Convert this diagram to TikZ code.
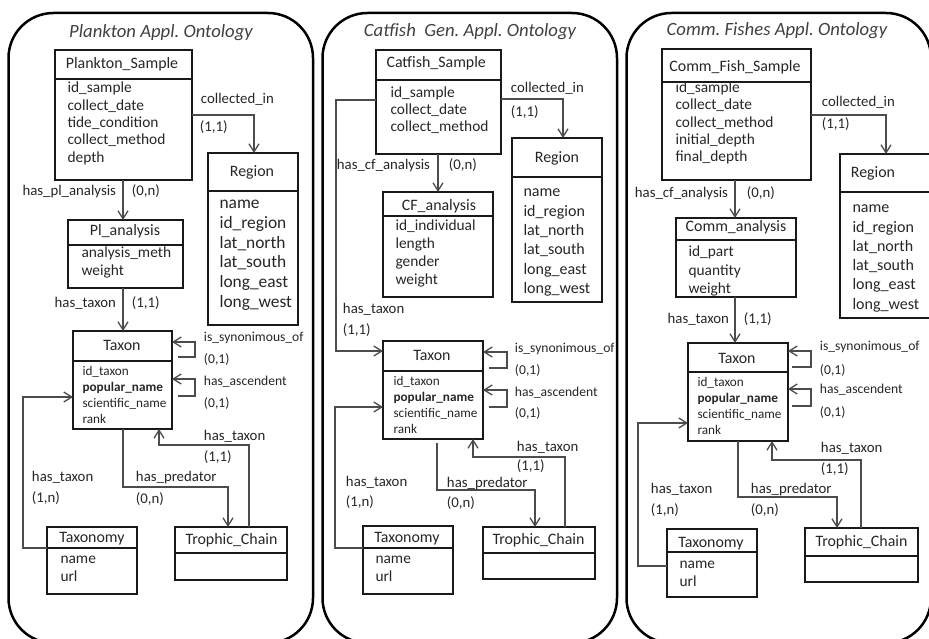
\documentclass[tikz,border=0pt]{standalone}
\usepackage{fontspec}
\setmainfont{Carlito}
\usetikzlibrary{arrows.meta,fit}
\frenchspacing
\newcommand{\fsz}[1]{\fontsize{#1}{#1}\selectfont}
% box with a header line: name, corners, y of the header line
\newcommand{\entity}[6]{%
  \node[entity, fit={(#2,#3) (#4,#5)}] (#1) {};
  \draw[sepline] (#1.west |- 0,#6) -- (#1.east |- 0,#6);}
% attribute lines: style, name prefix, x, first baseline, line step, list
\newcommand{\attrs}[6]{%
  \foreach \a [count=\i from 0] in {#6}
    \node[#1] (#2\i) at (#3,{#4+#5*\i}) {\a};}

\begin{document}
\begin{tikzpicture}[x=1pt, y=-1pt, >={Straight Barb[length=8pt,width=10pt]},
    panel/.style={draw, line width=2.5pt, rounded corners=45pt},
    ptitle/.style={anchor=base, text=black!75, font=\fsz{18.7}\itshape},
    entity/.style={draw=black!90, line width=1.1pt, inner sep=0pt, outer sep=0pt},
    sepline/.style={draw=black!90, line width=1.1pt},
    boxhead/.style={anchor=base, text=black!85, font=\fsz{15.9}},
    attr/.style={anchor=base west, text=black!85, font=\fsz{15.4}},
    rattr/.style={attr, font=\fsz{16}},
    tattr/.style={attr, font=\fsz{13.2}},
    rel/.style={->, draw=black!70, line width=1.3pt},
    lbl/.style={anchor=base west, text=black!85, font=\fsz{14.8}},
    lblsmall/.style={lbl, font=\fsz{13.6}}]
  \useasboundingbox (0,0) rectangle (929,639);

  % ---------- Plankton ----------
  \draw[panel] (8.5,13) rectangle (313,643);
  \node[ptitle] (plTitle) at (161,38) {Plankton Appl. Ontology};

  \entity{plSample}{55}{50}{192}{180}{79}
  \node[boxhead] (plSampleH) at (122,69) {Plankton\_Sample};
  \attrs{attr}{plSampleA}{64}{93}{17.3}{id\_sample, collect\_date, tide\_condition, collect\_method, depth}

  \entity{plRegion}{208}{153}{298}{325}{191}
  \node[boxhead] (plRegionH) at (252,177) {Region};
  \attrs{rattr, font=\fsz{17.4}}{plRegionA}{216}{209}{19.6}{name, id\_region, lat\_north, lat\_south, long\_east, long\_west}

  \entity{plAnalysis}{68}{220}{183}{288}{245}
  \node[boxhead] (plAnalysisH) at (125,236) {Pl\_analysis};
  \attrs{attr}{plAnalysisA}{78}{258}{18}{analysis\_meth, weight}

  \entity{plTaxon}{73}{331}{172}{429}{361}
  \node[boxhead] (plTaxonH) at (122,350) {Taxon};
  \attrs{tattr}{plTaxonA}{79}{375}{16}{id\_taxon, \textbf{popular\_name}, scientific\_name, rank}

  \entity{plTaxonomy}{47}{527}{137}{594}{548}
  \node[boxhead] (plTaxonomyH) at (92,542) {Taxonomy};
  \attrs{attr}{plTaxonomyA}{57}{563}{18}{name, url}

  \entity{plTrophic}{175}{527}{287}{580}{553}
  \node[boxhead, anchor=base west] (plTrophicH) at (182,544) {Trophic\_Chain};

  \draw[rel] (plSample.east |- 0,115) -| (plRegion.north -| 254,0)
    node[lbl] at (197,104) {collected\_in}
    node[lbl] at (196,132) {(1,1)};
  \draw[rel] (plSample.south -| 123,0) -- (plAnalysis.north -| 123,0)
    node[lbl, anchor=base east] at (120,196) {has\_pl\_analysis}
    node[lbl] at (128,196) {(0,n)};
  \draw[rel] (plAnalysis.south -| 123,0) -- (plTaxon.north -| 123,0)
    node[lbl, anchor=base east] at (120,307) {has\_taxon}
    node[lbl] at (128,307) {(1,1)};
  \draw[rel, shorten <=6pt] (plTaxon.east |- 0,357) -| (195,342) -- (plTaxon.east |- 0,342)
    node[lblsmall] at (200,341) {is\_synonimous\_of}
    node[lblsmall] at (200,363) {(0,1)};
  \draw[rel, shorten <=6pt] (plTaxon.east |- 0,396) -| (195,379) -- (plTaxon.east |- 0,379)
    node[lblsmall] at (200,385) {has\_ascendent}
    node[lblsmall] at (200,407) {(0,1)};
  \draw[rel] (plTaxonomy.west |- 0,548) -- (23,548) |- (plTaxon.west |- 0,397)
    node[lbl] at (28,481) {has\_taxon}
    node[lbl] at (28,502) {(1,n)};
  \draw[rel] (plTaxon.south -| 123,0) |- (228,487) -- (plTrophic.north -| 228,0)
    node[lbl] at (132,481) {has\_predator}
    node[lbl] at (132,503) {(0,n)};
  \draw[rel] (plTrophic.north -| 249,0) |- (159,445) -- (plTaxon.south -| 159,0)
    node[lbl] at (200,440) {has\_taxon}
    node[lbl] at (200,461) {(1,1)};

  % ---------- Catfish ----------
  \draw[panel] (322.5,13) rectangle (617,643);
  \node[ptitle] (cfTitle) at (470,37) {Catfish\ \ Gen. Appl. Ontology};

  \entity{cfSample}{376}{50}{501}{154}{80}
  \node[boxhead, anchor=base west] (cfSampleH) at (383,68) {Catfish\_Sample};
  \attrs{attr}{cfSampleA}{387}{97.5}{17}{id\_sample, collect\_date, collect\_method}

  \entity{cfRegion}{512}{138}{602}{302}{177}
  \node[boxhead] (cfRegionH) at (557,163) {Region};
  \attrs{rattr}{cfRegionA}{520}{197}{19.3}{name, id\_region, lat\_north, lat\_south, long\_east, long\_west}

  \entity{cfAnalysis}{383}{192}{493}{297}{216}
  \node[boxhead] (cfAnalysisH) at (439,211) {CF\_analysis};
  \attrs{attr}{cfAnalysisA}{392}{231}{17.8}{id\_individual, length, gender, weight}

  \entity{cfTaxon}{383}{341}{483}{439}{371}
  \node[boxhead] (cfTaxonH) at (432,360) {Taxon};
  \attrs{tattr}{cfTaxonA}{390}{385.5}{16}{id\_taxon, \textbf{popular\_name}, scientific\_name, rank}

  \entity{cfTaxonomy}{363}{526}{453}{594}{548}
  \node[boxhead] (cfTaxonomyH) at (407,542) {Taxonomy};
  \attrs{attr}{cfTaxonomyA}{372}{563}{18}{name, url}

  \entity{cfTrophic}{483}{527}{595}{579}{553}
  \node[boxhead, anchor=base west] (cfTrophicH) at (489,544) {Trophic\_Chain};

  \draw[rel] (cfSample.east |- 0,99) -| (cfRegion.north -| 563,0)
    node[lbl] at (507,93) {collected\_in}
    node[lbl] at (507,117) {(1,1)};
  \draw[rel] (cfSample.south -| 438,0) -- (cfAnalysis.north -| 438,0)
    node[lbl, anchor=base east] at (434,170) {has\_cf\_analysis}
    node[lbl] at (445,170) {(0,n)};
  \draw[rel] (cfSample.west |- 0,100) -- (336,100) |- (cfTaxon.west |- 0,351)
    node[lbl] at (339,313.5) {has\_taxon}
    node[lbl] at (339,334.5) {(1,1)};
  \draw[rel, shorten <=6pt] (cfTaxon.east |- 0,368) -| (507,352) -- (cfTaxon.east |- 0,352)
    node[lblsmall] at (511,352) {is\_synonimous\_of}
    node[lblsmall] at (511,374) {(0,1)};
  \draw[rel, shorten <=6pt] (cfTaxon.east |- 0,407) -| (507,390) -- (cfTaxon.east |- 0,390)
    node[lblsmall] at (511,396) {has\_ascendent}
    node[lblsmall] at (511,417) {(0,1)};
  \draw[rel] (cfTaxonomy.west |- 0,548) -- (335,548) |- (cfTaxon.west |- 0,407)
    node[lbl] at (342,486) {has\_taxon}
    node[lbl] at (342,506) {(1,n)};
  \draw[rel, shorten <=4pt] (cfTaxon.south -| 437,0) |- (535,490) -- (cfTrophic.north -| 535,0)
    node[lbl] at (443,487) {has\_predator}
    node[lbl] at (443,507) {(0,n)};
  \draw[rel] (cfTrophic.north -| 565,0) |- (473,457) -- (cfTaxon.south -| 473,0)
    node[lbl] at (513,451) {has\_taxon}
    node[lbl] at (513,470) {(1,1)};

  % ---------- Commercial fishes ----------
  \draw[panel] (626.5,13) rectangle (931,643);
  \node[ptitle] (cmTitle) at (777,36) {Comm. Fishes Appl. Ontology};

  \entity{cmSample}{662}{49}{811}{180}{82}
  \node[boxhead] (cmSampleH) at (735,72) {Comm\_Fish\_Sample};
  \attrs{attr}{cmSampleA}{672}{92.5}{17.3}{id\_sample, collect\_date, collect\_method, initial\_depth, final\_depth}

  \entity{cmRegion}{840}{154}{935}{318}{192}
  \node[boxhead] (cmRegionH) at (873,178) {Region};
  \attrs{rattr}{cmRegionA}{849}{213}{19.2}{name, id\_region, lat\_north, lat\_south, long\_east, long\_west}

  \entity{cmAnalysis}{676}{218}{796}{297}{240}
  \node[boxhead] (cmAnalysisH) at (736,232) {Comm\_analysis};
  \attrs{attr}{cmAnalysisA}{685}{256.5}{18.5}{id\_part, quantity, weight}

  \entity{cmTaxon}{688}{343}{788}{441}{372}
  \node[boxhead] (cmTaxonH) at (737,363) {Taxon};
  \attrs{tattr}{cmTaxonA}{694}{386.5}{16}{id\_taxon, \textbf{popular\_name}, scientific\_name, rank}

  \entity{cmTaxonomy}{667}{529}{757}{597}{552}
  \node[boxhead] (cmTaxonomyH) at (711,547) {Taxonomy};
  \attrs{attr}{cmTaxonomyA}{676}{568}{18}{name, url}

  \entity{cmTrophic}{805}{528}{918}{582}{556}
  \node[boxhead, anchor=base west] (cmTrophicH) at (812,546) {Trophic\_Chain};

  \draw[rel] (cmSample.east |- 0,115) -| (cmRegion.north -| 886,0)
    node[lbl] at (818,107) {collected\_in}
    node[lbl] at (818,129) {(1,1)};
  \draw[rel] (cmSample.south -| 735,0) -- (cmAnalysis.north -| 735,0)
    node[lbl, anchor=base east] at (732,198) {has\_cf\_analysis}
    node[lbl] at (743,198) {(0,n)};
  \draw[rel] (cmAnalysis.south -| 735,0) -- (cmTaxon.north -| 735,0)
    node[lbl, anchor=base east] at (733,323) {has\_taxon}
    node[lbl] at (740,323) {(1,1)};
  \draw[rel, shorten <=4pt] (cmTaxon.east |- 0,367) -| (811,351) -- (cmTaxon.east |- 0,351)
    node[lblsmall] at (816,350) {is\_synonimous\_of}
    node[lblsmall] at (816,374) {(0,1)};
  \draw[rel, shorten <=4pt] (cmTaxon.east |- 0,406) -| (811,389) -- (cmTaxon.east |- 0,389)
    node[lblsmall] at (816,393) {has\_ascendent}
    node[lblsmall] at (816,416) {(0,1)};
  \draw[rel] (cmTaxonomy.west |- 0,566) -- (638,566) |- (cmTaxon.west |- 0,423)
    node[lbl] at (647,493) {has\_taxon}
    node[lbl] at (647,514) {(1,n)};
  \draw[rel] (cmTaxon.south -| 738,0) |- (837,497) -- (cmTrophic.north -| 837,0)
    node[lbl] at (747,493) {has\_predator}
    node[lbl] at (747,514) {(0,n)};
  \draw[rel] (cmTrophic.north -| 861,0) |- (772,460) -- (cmTaxon.south -| 772,0)
    node[lbl] at (817,452) {has\_taxon}
    node[lbl] at (817,473) {(1,1)};
\end{tikzpicture}
\end{document}
